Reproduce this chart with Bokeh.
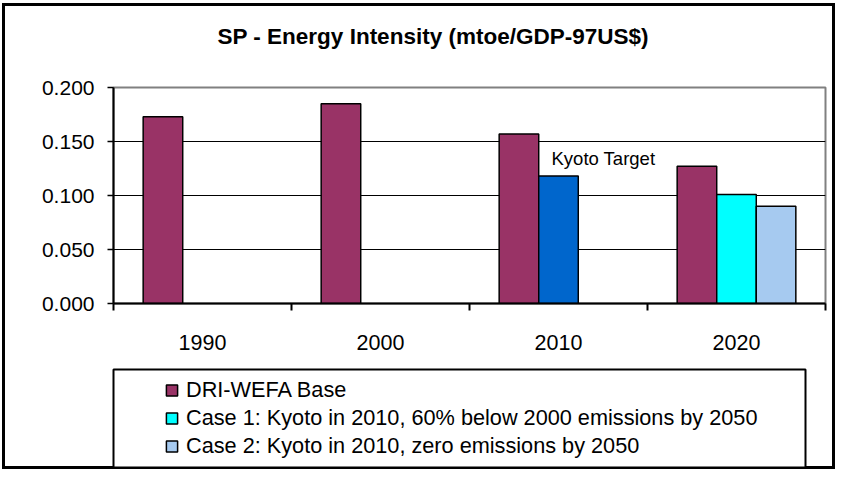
import math
from bokeh.plotting import figure
from bokeh.layouts import column
from bokeh.models import (Range1d, FixedTicker, PrintfTickFormatter, Legend, LegendItem,
                          Label)
from bokeh.embed import file_html
from bokeh.resources import INLINE

# ---------------- data ----------------
years = ["1990", "2000", "2010", "2020"]
dri_wefa_base = [0.173, 0.185, 0.157, 0.127]
kyoto_target = [None, None, 0.118, None]
case1 = [None, None, None, 0.101]
case2 = [None, None, None, 0.090]
y_ticks = [0.0, 0.05, 0.10, 0.15, 0.20]

title_text = "SP - Energy Intensity  (mtoe/GDP-97US$)"
legend_labels = ["DRI-WEFA Base",
                 "Case 1: Kyoto in 2010, 60% below 2000 emissions by 2050",
                 "Case 2: Kyoto in 2010, zero emissions by 2050"]
kyoto_label = "Kyoto Target"

# ---------------- styles ----------------
FONT = "Liberation Sans"
C_BASE = "#993366"
C_KYOTO = "#0066CC"
C_CASE1 = "#00FFFF"
C_CASE2 = "#A6CAF0"

W = 833
HT, H1, H2 = 70, 292, 104
BL = 111   # left border shared by all panels

# ---------------- title panel ----------------
t = figure(width=W, height=HT, output_backend="svg", toolbar_location=None,
           x_range=Range1d(0, 1), y_range=Range1d(0, 1),
           x_axis_location=None, y_axis_location=None,
           min_border_left=BL, min_border_right=10, min_border_top=0,
           min_border_bottom=0)
t.frame_align = False
t.grid.visible = False
t.outline_line_alpha = 0
t.background_fill_alpha = 0
t.border_fill_alpha = 0
t.styles = {"box-shadow": "inset 3px 0 0 0 #000, inset -3px 0 0 0 #000, inset 0 3px 0 0 #000"}
t.title.text = title_text
t.title.text_font = FONT
t.title.text_font_size = "22.5px"
t.title.text_font_style = "bold"
t.title.text_color = "black"
t.title.align = "left"
t.title.offset = 104
t.title.standoff = 36

# ---------------- chart ----------------
p = figure(width=W, height=H1, output_backend="svg", toolbar_location=None,
           x_range=Range1d(0, len(years)), y_range=Range1d(0, 0.2),
           min_border_left=BL, min_border_right=10, min_border_top=14,
           min_border_bottom=62)
p.frame_align = False
p.background_fill_color = "white"
p.border_fill_alpha = 0
p.outline_line_color = "#808080"
p.outline_line_width = 2
p.styles = {"box-shadow": "inset 3px 0 0 0 #000, inset -3px 0 0 0 #000"}

n = len(years)
bw = 1 / 4.5
centers = [i + 0.5 for i in range(n)]
series = [(dri_wefa_base, -1, C_BASE), (kyoto_target, 0, C_KYOTO),
          (case1, 0, C_CASE1), (case2, 1, C_CASE2)]
for vals, slot, color in series:
    xs = [c + slot * bw for c, v in zip(centers, vals) if v is not None]
    tops = [v for v in vals if v is not None]
    p.vbar(x=xs, top=tops, bottom=0, width=bw, fill_color=color,
           line_color="black", line_width=1.5)

yax = p.yaxis[0]
yax.ticker = FixedTicker(ticks=y_ticks)
yax.formatter = PrintfTickFormatter(format="%.3f")
yax.major_tick_out = 6
yax.major_tick_in = 0
yax.minor_tick_out = 0
yax.minor_tick_in = 0
yax.axis_line_color = "black"
yax.axis_line_width = 2
yax.major_tick_line_color = "black"
yax.major_tick_line_width = 1.5
yax.major_label_text_font = FONT
yax.major_label_text_font_size = "21px"
yax.major_label_text_color = "black"
yax.major_label_standoff = 13

xax = p.xaxis[0]
xax.ticker = FixedTicker(ticks=centers, minor_ticks=list(range(n + 1)))
xax.major_label_overrides = {c: y for c, y in zip(centers, years)}
xax.major_tick_out = 0
xax.major_tick_in = 0
xax.minor_tick_out = 7
xax.minor_tick_in = 0
xax.minor_tick_line_color = "black"
xax.minor_tick_line_width = 2
xax.axis_line_color = "black"
xax.axis_line_width = 2
xax.major_label_text_font = FONT
xax.major_label_text_font_size = "21.5px"
xax.major_label_text_color = "black"
xax.major_label_standoff = 24

p.xgrid.visible = False
p.ygrid.ticker = FixedTicker(ticks=y_ticks[1:-1])
p.ygrid.grid_line_color = "black"
p.ygrid.grid_line_width = 1

ki = [i for i, v in enumerate(kyoto_target) if v is not None][0]
p.add_layout(Label(x=centers[ki], y=kyoto_target[ki], x_offset=-7, y_offset=18,
                   text=kyoto_label, text_font=FONT, text_font_size="18.5px",
                   text_baseline="middle", text_color="black"))

# ---------------- legend panel ----------------
q = figure(width=W, height=H2, output_backend="svg", toolbar_location=None,
           x_range=Range1d(0, 1), y_range=Range1d(0, 1),
           x_axis_location=None, y_axis_location=None,
           min_border_left=BL, min_border_right=30, min_border_top=4,
           min_border_bottom=2)
q.frame_align = False
q.grid.visible = False
q.background_fill_color = "white"
q.border_fill_alpha = 0
q.outline_line_color = "black"
q.outline_line_width = 2
q.styles = {"box-shadow": "inset 3px 0 0 0 #000, inset -3px 0 0 0 #000, inset 0 -3px 0 0 #000"}

items = []
for lab, color in zip(legend_labels, [C_BASE, C_CASE1, C_CASE2]):
    r = q.scatter(x=[math.nan], y=[math.nan], marker="square", size=11,
                  fill_color=color, line_color="black", line_width=1.5)
    items.append(LegendItem(label=lab, renderers=[r]))
legend = Legend(items=items, location=(44, 7), orientation="vertical",
                margin=0, padding=0, spacing=0, glyph_width=29, glyph_height=28,
                label_height=28, label_standoff=0,
                label_text_font=FONT, label_text_font_size="21.7px",
                label_text_color="black",
                border_line_alpha=0, background_fill_alpha=0)
q.add_layout(legend, "center")

layout = column(t, p, q, spacing=0)
layout.styles = {"position": "relative", "left": "2px", "top": "3px",
                 "margin-bottom": "-40px", "margin-right": "-40px"}

open("out.html", "w").write(file_html(layout, INLINE))
